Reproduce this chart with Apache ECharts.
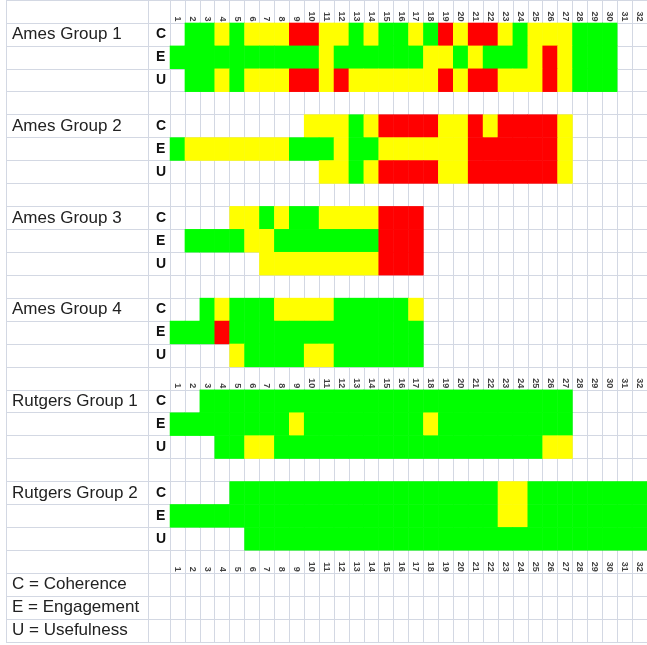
<!DOCTYPE html>
<html>
<head>
<meta charset="utf-8">
<script src="https://cdn.jsdelivr.net/npm/echarts@6/dist/echarts.min.js"></script>
<style>
html,body{margin:0;padding:0;background:#fff;}
#chart{width:647px;height:645px;}
</style>
</head>
<body>
<div id="chart"></div>
<script>
// ---- data ----
// column numbers (tick labels)
const columns = ['1','2','3','4','5','6','7','8','9','10','11','12','13','14','15','16','17','18','19','20','21','22','23','24','25','26','27','28','29','30','31','32'];
// row labels (first column / second column)
const groupNames = ['', 'Ames Group 1', '', '', '', 'Ames Group 2', '', '', '', 'Ames Group 3', '', '', '', 'Ames Group 4', '', '', '', 'Rutgers Group 1', '', '', '', 'Rutgers Group 2', '', '', '', 'C = Coherence', 'E = Engagement', 'U = Usefulness'];
const letters = ['', 'C', 'E', 'U', '', 'C', 'E', 'U', '', 'C', 'E', 'U', '', 'C', 'E', 'U', '', 'C', 'E', 'U', '', 'C', 'E', 'U', '', '', '', ''];
const headerRows = [0, 16, 24];
// ratings per column: G = green, Y = yellow, R = red, . = empty
const ames1C = '.GGYGYYYRRYYGYGGYGRYRRYGYYYGGG..';
const ames1E = 'GGGGGGGGGGYGGGGGGYYGYGGGYRYGGG..';
const ames1U = '.GGYGYYYRRYRYYYYYYRYRRYYYRYGGG..';
const ames2C = '.........YYYGYRRRRYYRYRRRRY.....';
const ames2E = 'GYYYYYYYGGGYGGYYYYYYRRRRRRY.....';
const ames2U = '..........YYGYRRRRYYRRRRRRY.....';
const ames3C = '....YYGYGGYYYYRRR...............';
const ames3E = '.GGGGYYGGGGGGGRRR...............';
const ames3U = '......YYYYYYYYRRR...............';
const ames4C = '..GYGGGYYYYGGGGGY...............';
const ames4E = 'GGGRGGGGGGGGGGGGG...............';
const ames4U = '....YGGGGYYGGGGGG...............';
const rut1C  = '..GGGGGGGGGGGGGGGGGGGGGGGGG.....';
const rut1E  = 'GGGGGGGGYGGGGGGGGYGGGGGGGGG.....';
const rut1U  = '...GGYYGGGGGGGGGGGGGGGGGGYY.....';
const rut2C  = '....GGGGGGGGGGGGGGGGGGYYGGGGGGGG';
const rut2E  = 'GGGGGGGGGGGGGGGGGGGGGGYYGGGGGGGG';
const rut2U  = '.....GGGGGGGGGGGGGGGGGGGGGGGGGGG';
// which grid row each rating string goes into
const ratingRows = [
  [1, ames1C], [2, ames1E], [3, ames1U],
  [5, ames2C], [6, ames2E], [7, ames2U],
  [9, ames3C], [10, ames3E], [11, ames3U],
  [13, ames4C], [14, ames4E], [15, ames4U],
  [17, rut1C], [18, rut1E], [19, rut1U],
  [21, rut2C], [22, rut2E], [23, rut2U]
];
const codeOf = {G: 1, Y: 2, R: 3};

// ---- build ----
const rowIds = groupNames.map((_, i) => String(i));
const cells = [];
ratingRows.forEach(([r, s]) => {
  s.split('').forEach((ch, c) => {
    if (codeOf[ch]) cells.push([c, r, codeOf[ch]]);
  });
});
const headerPts = [];
headerRows.forEach(r => columns.forEach((lab, c) => headerPts.push([c, r, lab])));

const gridColor = '#d3d8e3';
const rowTop = -2, rowH = 23, colW = 15;
const totalH = rowIds.length * rowH;

function yAx(gridIndex, labels, labelStyle) {
  return {
    type: 'category', gridIndex, data: rowIds, inverse: true,
    axisLine: {show: false}, axisTick: {show: false},
    splitLine: {show: true, interval: 0, lineStyle: {color: gridColor, width: 1}},
    axisLabel: Object.assign({
      show: !!labels, inside: true, interval: 0,
      formatter: (v, i) => labels ? labels[i] : ''
    }, labelStyle || {})
  };
}
function xAx(gridIndex, data) {
  return {
    type: 'category', gridIndex, data,
    axisLine: {show: false}, axisTick: {show: false}, axisLabel: {show: false},
    splitLine: {show: true, interval: 0, lineStyle: {color: gridColor, width: 1}}
  };
}

const chart = echarts.init(document.getElementById('chart'), null, {renderer: 'canvas'});
chart.setOption({
  animation: false,
  backgroundColor: '#ffffff',
  grid: [
    {left: 6, top: rowTop, width: 142, height: totalH},
    {left: 148, top: rowTop, width: 22, height: totalH},
    {left: 170, top: rowTop, width: columns.length * colW, height: totalH}
  ],
  xAxis: [xAx(0, ['a']), xAx(1, ['b']), xAx(2, columns)],
  yAxis: [
    yAx(0, groupNames, {margin: 6, fontSize: 17, color: '#222', fontFamily: 'Liberation Sans, Arial, sans-serif'}),
    yAx(1, letters, {margin: 8, fontSize: 14, fontWeight: 'bold', color: '#111', fontFamily: 'Liberation Sans, Arial, sans-serif'}),
    yAx(2, null)
  ],
  visualMap: {
    type: 'piecewise', show: false, seriesIndex: 0, dimension: 2,
    pieces: [
      {value: 1, color: '#00ff00'},
      {value: 2, color: '#ffff00'},
      {value: 3, color: '#ff0000'}
    ]
  },
  series: [
    {
      type: 'heatmap', xAxisIndex: 2, yAxisIndex: 2, data: cells, silent: true,
      itemStyle: {borderWidth: 0}, emphasis: {disabled: true}
    },
    {
      type: 'scatter', xAxisIndex: 2, yAxisIndex: 2, data: headerPts, silent: true,
      symbol: 'rect', symbolSize: 2, itemStyle: {color: 'rgba(0,0,0,0)'},
      label: {
        show: true, position: 'inside', rotate: -90, align: 'right', verticalAlign: 'middle',
        offset: [10, 0], formatter: p => p.data[2],
        fontSize: 9, fontWeight: 'bold', color: '#111', fontFamily: 'Liberation Sans, Arial, sans-serif'
      }
    }
  ]
});
</script>
</body>
</html>
